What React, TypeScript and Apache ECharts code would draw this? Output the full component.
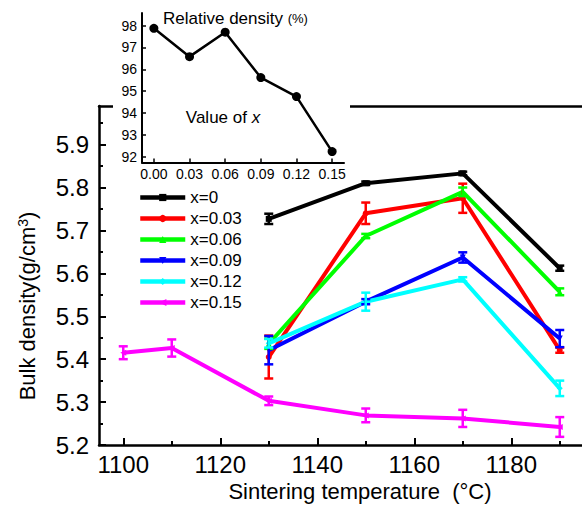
import React, { useEffect, useRef } from "react";
import * as echarts from "echarts";

const FONT = "'Liberation Sans', Arial, Helvetica, sans-serif";

// Main chart data
const temps = [1130, 1150, 1170, 1190];
const temps15 = [1100, 1110, 1130, 1150, 1170, 1190];
const seriesNames = ["x=0", "x=0.03", "x=0.06", "x=0.09", "x=0.12", "x=0.15"];
const seriesColors = ["#000000", "#FF0000", "#00FF00", "#0000FF", "#00FFFF", "#FF00FF"];
const seriesSymbols = [
  "rect",
  "circle",
  "triangle",
  "path://M0,0L10,0L5,10Z",
  "diamond",
  "path://M0,5L10,0L10,10Z",
];

const density0 = [5.727, 5.81, 5.833, 5.612];
const err0 = [0.012, 0.004, 0.004, 0.006];
const density003 = [5.405, 5.74, 5.775, 5.421];
const err003 = [0.05, 0.025, 0.034, 0.006];
const density006 = [5.436, 5.687, 5.79, 5.557];
const err006 = [0.012, 0.005, 0.01, 0.008];
const density009 = [5.421, 5.534, 5.637, 5.448];
const err009 = [0.033, 0.006, 0.012, 0.02];
const density012 = [5.437, 5.534, 5.586, 5.332];
const err012 = [0.01, 0.021, 0.005, 0.018];
const density015 = [5.415, 5.426, 5.303, 5.269, 5.262, 5.242];
const err015 = [0.015, 0.02, 0.01, 0.016, 0.02, 0.023];

// Axis ticks
const xMajor = [1100, 1120, 1140, 1160, 1180];
const xMinor = [1110, 1130, 1150, 1170, 1190];
const yMajor = [5.2, 5.3, 5.4, 5.5, 5.6, 5.7, 5.8, 5.9];
const yMinor = [5.25, 5.35, 5.45, 5.55, 5.65, 5.75, 5.85, 5.95];

// Inset data
const insetX = [0.0, 0.03, 0.06, 0.09, 0.12, 0.15];
const relDensity = [97.88, 96.58, 97.7, 95.62, 94.75, 92.23];
const insetYTicks = [92, 93, 94, 95, 96, 97, 98];

const groups = [
  { x: temps, v: density0, e: err0 },
  { x: temps, v: density003, e: err003 },
  { x: temps, v: density006, e: err006 },
  { x: temps, v: density009, e: err009 },
  { x: temps, v: density012, e: err012 },
  { x: temps15, v: density015, e: err015 },
];

export default function App() {
  const ref = useRef<HTMLDivElement>(null);

  useEffect(() => {
    if (!ref.current) return;
    const chart = echarts.init(ref.current, undefined, { renderer: "svg" });

    const series: any[] = [];
    groups.forEach((g, k) => {
      const color = seriesColors[k];
      series.push({
        type: "line",
        name: seriesNames[k],
        xAxisIndex: 0,
        yAxisIndex: 0,
        data: g.x.map((t, i) => [t, g.v[i]]),
        symbol: seriesSymbols[k],
        symbolSize: 6,
        showSymbol: true,
        lineStyle: { width: 4, color },
        itemStyle: { color },
        z: 2 + k * 0.01,
      });
      series.push({
        type: "custom",
        name: seriesNames[k] + " err",
        xAxisIndex: 0,
        yAxisIndex: 0,
        silent: true,
        z: 3 + k * 0.01,
        encode: { x: 0, y: [1, 2] },
        data: g.x.map((t, i) => [t, g.v[i] - g.e[i], g.v[i] + g.e[i]]),
        renderItem: (params: any, api: any) => {
          const x = api.value(0);
          const p1 = api.coord([x, api.value(1)]);
          const p2 = api.coord([x, api.value(2)]);
          const w = 4.5;
          const style = { stroke: color, lineWidth: 2.5 };
          return {
            type: "group",
            children: [
              { type: "line", shape: { x1: p1[0], y1: p1[1], x2: p2[0], y2: p2[1] }, style },
              { type: "line", shape: { x1: p1[0] - w, y1: p1[1], x2: p1[0] + w, y2: p1[1] }, style },
              { type: "line", shape: { x1: p2[0] - w, y1: p2[1], x2: p2[0] + w, y2: p2[1] }, style },
            ],
          };
        },
      });
    });

    series.push({
      type: "line",
      name: "Relative density",
      xAxisIndex: 3,
      yAxisIndex: 2,
      data: insetX.map((x, i) => [x, relDensity[i]]),
      symbol: "circle",
      symbolSize: 9,
      lineStyle: { width: 2.5, color: "#000" },
      itemStyle: { color: "#000" },
      z: 7,
    });

    const axisLine = { show: true, onZero: false, lineStyle: { color: "#000", width: 2.5 } };

    chart.setOption({
      animation: false,
      backgroundColor: "#fff",
      grid: [
        { left: 99, top: 106, width: 485, bottom: 62, containLabel: false, outerBoundsMode: "none" },
        { left: 142, top: 13, width: 202, height: 149.5, containLabel: false, outerBoundsMode: "none" },
      ],
      xAxis: [
        {
          type: "value",
          gridIndex: 0,
          position: "bottom",
          min: 1095,
          max: 1195,
          axisLine,
          axisTick: { show: true, inside: true, length: 7, customValues: xMajor, lineStyle: { color: "#000", width: 2 } },
          axisLabel: {
            show: true,
            customValues: xMajor,
            formatter: (v: number) => String(v),
            fontSize: 24,
            color: "#000",
            margin: 7,
            fontFamily: FONT,
          },
          splitLine: { show: false },
        },
        {
          type: "value",
          gridIndex: 0,
          position: "bottom",
          min: 1095,
          max: 1195,
          axisLine: { show: false, onZero: false },
          axisTick: { show: true, inside: true, length: 4, customValues: xMinor, lineStyle: { color: "#000", width: 2 } },
          axisLabel: { show: false },
          splitLine: { show: false },
        },
        {
          type: "value",
          gridIndex: 0,
          position: "top",
          min: 1095,
          max: 1195,
          z: 0,
          axisLine,
          axisTick: { show: false },
          axisLabel: { show: false },
          splitLine: { show: false },
        },
        {
          type: "value",
          gridIndex: 1,
          position: "bottom",
          min: -0.01,
          max: 0.16,
          z: 5,
          axisLine: { show: true, onZero: false, lineStyle: { color: "#000", width: 2 } },
          axisTick: { show: true, inside: true, length: 4, customValues: insetX, lineStyle: { color: "#000", width: 1.5 } },
          axisLabel: {
            show: true,
            customValues: insetX,
            formatter: (v: number) => v.toFixed(2),
            fontSize: 14,
            color: "#000",
            margin: 4,
            fontFamily: FONT,
          },
          splitLine: { show: false },
        },
      ],
      yAxis: [
        {
          type: "value",
          gridIndex: 0,
          position: "left",
          min: 5.2,
          max: 5.99,
          axisLine,
          axisTick: { show: true, inside: true, length: 7, customValues: yMajor, lineStyle: { color: "#000", width: 2 } },
          axisLabel: { show: true, customValues: yMajor, fontSize: 24, color: "#000", margin: 10, fontFamily: FONT },
          splitLine: { show: false },
        },
        {
          type: "value",
          gridIndex: 0,
          position: "left",
          min: 5.2,
          max: 5.99,
          axisLine: { show: false, onZero: false },
          axisTick: { show: true, inside: true, length: 4, customValues: yMinor, lineStyle: { color: "#000", width: 2 } },
          axisLabel: { show: false },
          splitLine: { show: false },
        },
        {
          type: "value",
          gridIndex: 1,
          position: "left",
          min: 91.73,
          max: 98.58,
          z: 5,
          axisLine: { show: true, onZero: false, lineStyle: { color: "#000", width: 2 } },
          axisTick: { show: true, inside: true, length: 4, customValues: insetYTicks, lineStyle: { color: "#000", width: 1.5 } },
          axisLabel: { show: true, customValues: insetYTicks, fontSize: 14, color: "#000", margin: 5, fontFamily: FONT },
          splitLine: { show: false },
        },
      ],
      legend: {
        data: seriesNames,
        orient: "vertical",
        left: 133,
        top: 184,
        itemWidth: 45,
        itemHeight: 9,
        itemGap: 4,
        z: 10,
        lineStyle: { width: 4.5 },
        textStyle: { fontSize: 17, color: "#000", fontFamily: FONT },
      },
      graphic: [
        {
          type: "rect",
          z: 1,
          shape: { x: 113, y: 0, width: 237, height: 185 },
          style: { fill: "#fff" },
          silent: true,
        },
        {
          type: "text",
          z: 10,
          x: 27,
          y: 306,
          rotation: Math.PI / 2,
          style: {
            text: "Bulk density(g/cm{sup|3})",
            fontSize: 22,
            fontFamily: FONT,
            fill: "#000",
            align: "center",
            verticalAlign: "middle",
            rich: {
              sup: { fontSize: 14, fontFamily: FONT, fill: "#000", verticalAlign: "top" },
            },
          },
        },
        {
          type: "text",
          z: 10,
          x: 360,
          y: 491,
          style: {
            text: "Sintering temperature  (°C)",
            fontSize: 22,
            fontFamily: FONT,
            fill: "#000",
            align: "center",
            verticalAlign: "middle",
          },
        },
        {
          type: "text",
          z: 10,
          x: 163,
          y: 18,
          style: {
            text: "Relative density {s|(%)}",
            fontSize: 17,
            fontFamily: FONT,
            fill: "#000",
            align: "left",
            verticalAlign: "middle",
            rich: { s: { fontSize: 13, fontFamily: FONT, fill: "#000" } },
          },
        },
        {
          type: "text",
          z: 10,
          x: 223,
          y: 117,
          style: {
            text: "Value of {i|x}",
            fontSize: 17,
            fontFamily: FONT,
            fill: "#000",
            align: "center",
            verticalAlign: "middle",
            rich: { i: { fontSize: 17, fontFamily: FONT, fontStyle: "italic", fill: "#000" } },
          },
        },
      ],
      series,
    });

    return () => chart.dispose();
  }, []);

  return (
    <div
      ref={ref}
      style={{ position: "fixed", left: 0, top: 0, width: 582, height: 507, background: "#fff" }}
    />
  );
}
